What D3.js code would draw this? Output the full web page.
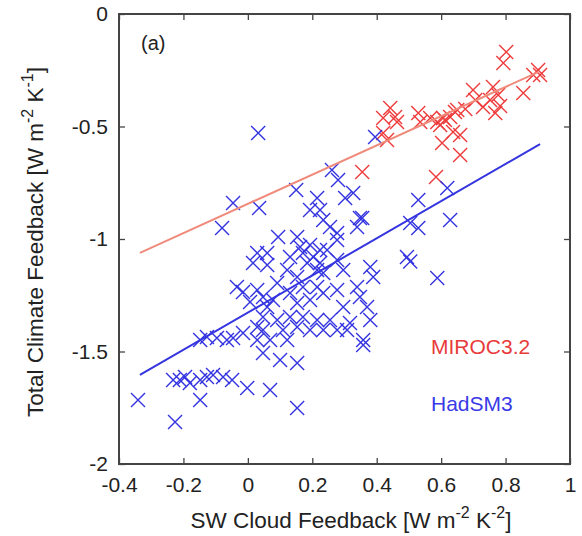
<!DOCTYPE html>
<html>
<head>
<meta charset="utf-8">
<script src="https://cdn.jsdelivr.net/npm/d3@7"></script>
<style>
  body { margin: 0; background: #fff; }
  svg { font-family: "Liberation Sans", Arial, sans-serif; }
</style>
</head>
<body>
<div id="chart"></div>
<script>
const width = 582;
const height = 536;
const margin = { top: 14, right: 12, bottom: 72, left: 119 };

// HadSM3 ensemble (blue)
const hadX = [0.032, 0.395, 0.261, 0.280, 0.150, -0.046, 0.035, -0.080, 0.215, 0.302,
  0.224, 0.193, 0.355, 0.327, 0.619, 0.529, 0.504, 0.529, 0.628, 0.494,
  0.504, 0.588, 0.094, 0.153, 0.234, 0.255, 0.277, 0.339, 0.277, 0.029,
  0.060, 0.016, 0.060, 0.131, 0.171, 0.184, 0.224, 0.215, 0.234, 0.277,
  0.296, 0.380, 0.389, 0.122, 0.153, 0.091, 0.171, 0.215, -0.034, -0.015,
  0.029, 0.047, 0.078, 0.007, 0.060, 0.131, 0.153, 0.193, 0.234, 0.277,
  0.296, 0.339, 0.348, 0.370, 0.380, 0.317, 0.358, 0.358, 0.047, 0.091,
  0.131, 0.171, 0.215, 0.255, 0.029, 0.109, 0.153, 0.193, 0.234, 0.277,
  0.308, -0.148, -0.127, -0.096, -0.065, -0.046, -0.015, 0.029, 0.069, 0.122,
  0.047, 0.100, 0.153, -0.232, -0.211, -0.195, -0.148, -0.127, -0.108, -0.077,
  -0.049, -0.180, -0.148, -0.002, 0.069, 0.153, -0.341, -0.226, 0.348, 0.047,
  0.203, 0.246, 0.193, 0.162, 0.224];
const hadY = [-0.529, -0.547, -0.693, -0.738, -0.782, -0.840, -0.862, -0.951, -0.818, -0.818,
  -0.871, -0.871, -0.907, -0.796, -0.773, -0.827, -0.929, -0.951, -0.916, -1.080,
  -1.100, -1.173, -0.991, -0.991, -0.916, -0.947, -0.973, -0.947, -1.004, -1.062,
  -1.062, -1.107, -1.116, -1.080, -1.062, -1.107, -1.107, -1.138, -1.151, -1.093,
  -1.138, -1.124, -1.169, -1.138, -1.169, -1.196, -1.213, -1.213, -1.213, -1.236,
  -1.227, -1.258, -1.271, -1.280, -1.302, -1.240, -1.284, -1.271, -1.240, -1.227,
  -1.302, -1.213, -1.258, -1.302, -1.360, -1.373, -1.449, -1.471, -1.347, -1.360,
  -1.347, -1.347, -1.360, -1.360, -1.391, -1.404, -1.391, -1.404, -1.404, -1.404,
  -1.404, -1.449, -1.436, -1.440, -1.449, -1.440, -1.418, -1.449, -1.449, -1.449,
  -1.507, -1.538, -1.551, -1.627, -1.627, -1.613, -1.627, -1.613, -1.604, -1.613,
  -1.627, -1.640, -1.716, -1.662, -1.671, -1.751, -1.716, -1.813, -0.907, -1.404,
  -1.080, -1.049, -1.027, -1.036, -1.049];

// MIROC3.2 ensemble (red)
const mirocX = [0.802, 0.793, 0.901, 0.907, 0.886, 0.855, 0.699, 0.761, 0.777, 0.730,
  0.783, 0.768, 0.650, 0.628, 0.606, 0.588, 0.529, 0.535, 0.442, 0.457,
  0.420, 0.637, 0.420, 0.463, 0.597, 0.659, 0.603, 0.659, 0.432, 0.355,
  0.584, 0.675, 0.612, 0.706, 0.752, 0.643, 0.566];
const mirocY = [-0.169, -0.218, -0.249, -0.271, -0.271, -0.351, -0.338, -0.324, -0.360, -0.413,
  -0.409, -0.440, -0.427, -0.458, -0.462, -0.480, -0.440, -0.480, -0.418, -0.458,
  -0.462, -0.524, -0.529, -0.480, -0.493, -0.538, -0.573, -0.627, -0.560, -0.702,
  -0.724, -0.422, -0.471, -0.382, -0.382, -0.436, -0.462];

// least-squares lines, end points
const hadFitX = [-0.335, 0.907];
const hadFitY = [-1.604, -0.578];
const mirocFitX = [-0.335, 0.901];
const mirocFitY = [-1.062, -0.258];

const xTicks = [-0.4, -0.2, 0, 0.2, 0.4, 0.6, 0.8, 1];
const xTickLabels = ["-0.4", "-0.2", "0", "0.2", "0.4", "0.6", "0.8", "1"];
const yTicks = [-2, -1.5, -1, -0.5, 0];
const yTickLabels = ["-2", "-1.5", "-1", "-0.5", "0"];

const svg = d3.select("#chart")
  .append("svg")
  .attr("width", width)
  .attr("height", height);

const xScale = d3.scaleLinear()
  .domain([-0.4, 1])
  .range([margin.left, width - margin.right]);

const yScale = d3.scaleLinear()
  .domain([-2, 0])
  .range([height - margin.bottom, margin.top]);

const axisColor = "#444";
const tickLen = 6;

// axes: ticks point inward, mirrored on top and right
function styleAxis(g) {
  g.select(".domain").remove();
  g.selectAll("line").attr("stroke", axisColor).attr("stroke-width", 1.3);
  g.selectAll("text").attr("fill", "#222").attr("font-size", 21);
}

svg.append("g")
  .attr("transform", `translate(0,${height - margin.bottom})`)
  .call(d3.axisBottom(xScale).tickValues(xTicks)
    .tickFormat((d, i) => xTickLabels[i]).tickSizeInner(-tickLen).tickPadding(13))
  .call(styleAxis);

svg.append("g")
  .attr("transform", `translate(0,${margin.top})`)
  .call(d3.axisTop(xScale).tickValues(xTicks).tickFormat("").tickSizeInner(-tickLen))
  .call(styleAxis);

svg.append("g")
  .attr("transform", `translate(${margin.left},0)`)
  .call(d3.axisLeft(yScale).tickValues(yTicks)
    .tickFormat((d, i) => yTickLabels[i]).tickSizeInner(-tickLen).tickPadding(11))
  .call(styleAxis);

svg.append("g")
  .attr("transform", `translate(${width - margin.right},0)`)
  .call(d3.axisRight(yScale).tickValues(yTicks).tickFormat("").tickSizeInner(-tickLen))
  .call(styleAxis);

svg.append("rect")
  .attr("x", margin.left)
  .attr("y", margin.top)
  .attr("width", width - margin.left - margin.right)
  .attr("height", height - margin.top - margin.bottom)
  .attr("fill", "none")
  .attr("stroke", axisColor)
  .attr("stroke-width", 2);

// scatter
const cross = "M-7,-7L7,7M-7,7L7,-7";

function drawSeries(xs, ys, color) {
  svg.append("g")
    .selectAll("path")
    .data(xs.map((x, i) => ({ x, y: ys[i] })))
    .enter()
    .append("path")
    .attr("d", cross)
    .attr("transform", d => `translate(${xScale(d.x)},${yScale(d.y)})`)
    .attr("fill", "none")
    .attr("stroke", color)
    .attr("stroke-width", 1.4);
}

drawSeries(mirocX, mirocY, "#ee3b3b");
drawSeries(hadX, hadY, "#3434e0");

const line = d3.line().x(d => xScale(d[0])).y(d => yScale(d[1]));

svg.append("path")
  .attr("d", line(mirocFitX.map((x, i) => [x, mirocFitY[i]])))
  .attr("stroke", "#f08a7a")
  .attr("stroke-width", 2)
  .attr("fill", "none");

svg.append("path")
  .attr("d", line(hadFitX.map((x, i) => [x, hadFitY[i]])))
  .attr("stroke", "#3434e0")
  .attr("stroke-width", 2)
  .attr("fill", "none");

// labels
svg.append("text")
  .attr("x", 141)
  .attr("y", 50)
  .attr("font-size", 20)
  .attr("fill", "#222")
  .text("(a)");

svg.append("text")
  .attr("x", 431)
  .attr("y", 354)
  .attr("font-size", 21)
  .attr("fill", "#e83a3a")
  .text("MIROC3.2");

svg.append("text")
  .attr("x", 431)
  .attr("y", 411)
  .attr("font-size", 21)
  .attr("fill", "#3a3ae6")
  .text("HadSM3");

const xLabel = svg.append("text")
  .attr("x", 351)
  .attr("y", 528)
  .attr("text-anchor", "middle")
  .attr("font-size", 22.5)
  .attr("fill", "#222");
xLabel.append("tspan").text("SW Cloud Feedback [W m");
xLabel.append("tspan").attr("dy", -10).attr("font-size", 16).text("-2");
xLabel.append("tspan").attr("dy", 10).text(" K");
xLabel.append("tspan").attr("dy", -10).attr("font-size", 16).text("-2");
xLabel.append("tspan").attr("dy", 10).text("]");

const yLabel = svg.append("text")
  .attr("transform", "rotate(-90)")
  .attr("x", -242)
  .attr("y", 43)
  .attr("text-anchor", "middle")
  .attr("font-size", 22.5)
  .attr("fill", "#222");
yLabel.append("tspan").text("Total Climate Feedback [W m");
yLabel.append("tspan").attr("dy", -10).attr("font-size", 16).text("-2");
yLabel.append("tspan").attr("dy", 10).text(" K");
yLabel.append("tspan").attr("dy", -10).attr("font-size", 16).text("-1");
yLabel.append("tspan").attr("dy", 10).text("]");
</script>
</body>
</html>
